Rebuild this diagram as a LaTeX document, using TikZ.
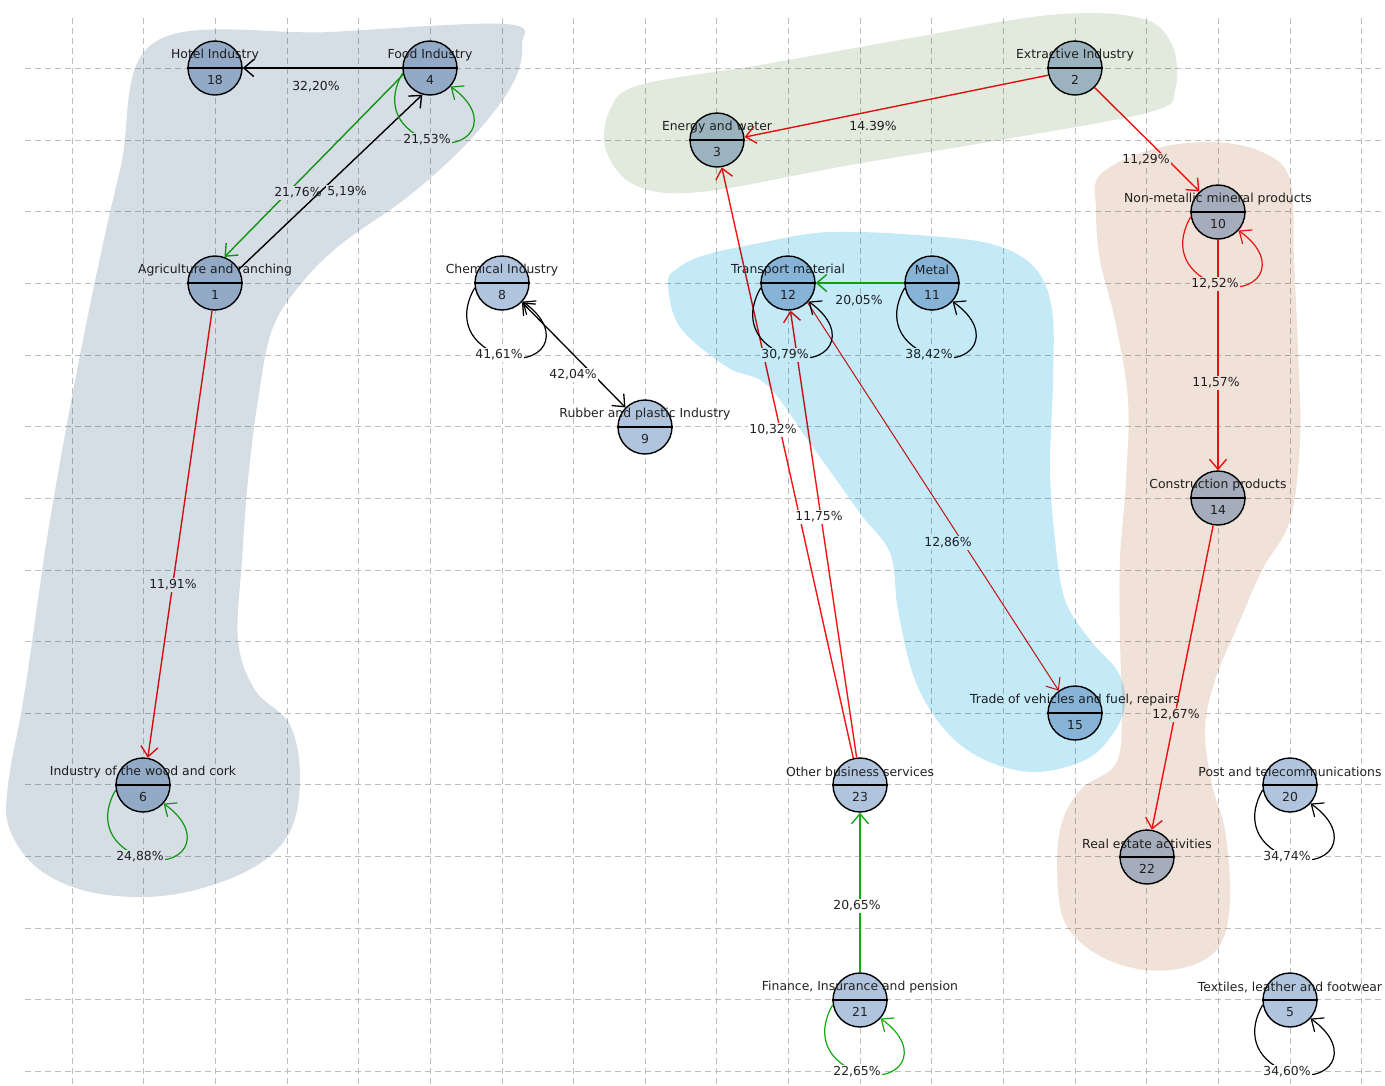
\documentclass[tikz,border=0pt]{standalone}
\usepackage{fontspec}
\setmainfont{DejaVu Sans}
\usetikzlibrary{arrows.meta,calc}
\definecolor{nodefill}{HTML}{B0C4DE}
\definecolor{gridc}{RGB}{190,190,190}
\definecolor{redc}{RGB}{250,20,20}
\definecolor{greenc}{RGB}{20,170,20}
\definecolor{txtc}{RGB}{35,35,35}
\definecolor{hullgray}{RGB}{214,222,229}
\definecolor{hullgreen}{RGB}{225,234,220}
\definecolor{hullblue}{RGB}{196,233,247}
\definecolor{hullpeach}{RGB}{240,226,216}
\tikzset{
  sector/.style={circle,draw=black,line width=1.4pt,fill=nodefill,minimum size=54pt,inner sep=0pt},
  ntext/.style={font=\fontsize{12.4}{14}\selectfont,text=txtc,inner sep=0pt},
  elab/.style={font=\fontsize{12.4}{14}\selectfont,fill=white,inner sep=1.5pt,text=txtc},
  flow/.style={line width=1.4pt,-{Straight Barb[length=10pt,width=17pt]}},
  biflow/.style={line width=1.3pt,{Straight Barb[length=10pt,width=17pt]}-{Straight Barb[length=10pt,width=17pt]}},
  loopst/.style={line width=1.2pt,-{Straight Barb[length=10pt,width=17pt]}},
  gridline/.style={gridc,line width=1pt,dash pattern=on 6pt off 4pt},
  hull/.style={blend mode=multiply}
}
\newcommand\sect[5]{%
  \node[sector] (#1) at (#2,#3) {};
  \draw[line width=1.4pt] (#1.west) -- (#1.east);
  \node[ntext] (#1name) at (#2,#3-13) {#4};
  \node[ntext] (#1num) at (#2,#3+12) {#5};
}
\newcommand\selfedge[4]{%
  \draw[loopst,#2] (#1.190) .. controls ($(#1)+(-42,30)$) and ($(#1)+(-38,58)$) .. ($(#1)+(-3,72)$)
     .. controls ($(#1)+(40,86)$) and ($(#1)+(65,50)$) .. (#1.318);
  \node[elab] (#3) at ($(#1)+(-3,72)$) {#4};
}
\begin{document}
\begin{tikzpicture}[x=1pt,y=-1pt]
\useasboundingbox (0,0) rectangle (1385,1085);
\fill[white] (0,0) rectangle (1385,1085);
% grid
\foreach \k in {1,...,19}{%
  \pgfmathsetmacro\gx{round(71.65*\k)+0.5}
  \draw[gridline] (\gx,18) -- (\gx,1085);}
\foreach \j in {0,...,14}{%
  \pgfmathsetmacro\gy{round(68+71.65*\j)+0.5}
  \draw[gridline] (25,\gy) -- (1385,\gy);}

% nodes
\sect{n18}{215}{68}{Hotel Industry}{18}
\sect{n4}{430}{68}{Food Industry}{4}
\sect{n3}{717}{140}{Energy and water}{3}
\sect{n2}{1075}{68}{Extractive Industry}{2}
\sect{n10}{1218}{212}{Non-metallic mineral products}{10}
\sect{n1}{215}{283}{Agriculture and ranching}{1}
\sect{n8}{502}{283}{Chemical Industry}{8}
\sect{n12}{788}{283}{Transport material}{12}
\sect{n11}{932}{283}{Metal}{11}
\sect{n9}{645}{427}{Rubber and plastic Industry}{9}
\sect{n14}{1218}{498}{Construction products}{14}
\sect{n15}{1075}{713}{Trade of vehicles and fuel, repairs}{15}
\sect{n6}{143}{785}{Industry of the wood and cork}{6}
\sect{n23}{860}{785}{Other business services}{23}
\sect{n20}{1290}{785}{Post and telecommunications}{20}
\sect{n22}{1147}{857}{Real estate activities}{22}
\sect{n21}{860}{1000}{Finance, Insurance and pension}{21}
\sect{n5}{1290}{1000}{Textiles, leather and footwear}{5}

% edges
\draw[flow] (n4.180) -- (n18.0);
\node[elab,fill=none] (l1) at (316,87) {32,20\%};
\draw[flow,greenc] (n4.194) -- (n1.70);
\node[elab] (l2) at (298,193) {21,76\%};
\draw[flow] (n1.30) -- (n4.254);
\node[elab] (l3) at (347,192) {5,19\%};
\draw[flow,redc] (n1.264) -- (n6.80);
\node[elab] (l4) at (173,585) {11,91\%};
\draw[biflow] (n8.316) -- (n9.135);
\node[elab] (l5) at (573,375) {42,04\%};
\draw[flow,redc] (n2.195) -- (n3.6);
\node[elab] (l6) at (873,126) {14.39\%};
\draw[flow,redc] (n2.315) -- (n10.132);
\node[elab] (l7) at (1146,160) {11,29\%};
\draw[flow,redc] (n10.270) -- (n14.90);
\node[elab] (l8) at (1216,383) {11,57\%};
\draw[flow,redc] (n14.260) -- (n22.80);
\node[elab] (l9) at (1176,715) {12,67\%};
\draw[flow,greenc] (n11.180) -- (n12.0);
\node[elab] (l10) at (859,301) {20,05\%};
\draw[flow,redc] (n23.104) -- (n3.280);
\node[elab] (l11) at (773,430) {10,32\%};
\draw[flow,redc] (n23.97) -- (n12.275);
\node[elab] (l12) at (819,517) {11,75\%};
\draw[flow,redc,line width=1pt] (n12.315) -- (n15.126);
\node[elab] (l13) at (948,543) {12,86\%};
\draw[flow,greenc] (n21.90) -- (n23.270);
\node[elab] (l14) at (857,906) {20,65\%};

% self loops
\selfedge{n4}{greenc}{s4}{21,53\%}
\selfedge{n6}{greenc}{s6}{24,88\%}
\selfedge{n8}{black}{s8}{41,61\%}
\selfedge{n12}{black}{s12}{30,79\%}
\selfedge{n11}{black}{s11}{38,42\%}
\selfedge{n10}{redc}{s10}{12,52\%}
\selfedge{n21}{greenc}{s21}{22,65\%}
\selfedge{n20}{black}{s20}{34,74\%}
\selfedge{n5}{black}{s5}{34,60\%}

% hulls (overlay, multiply)
\fill[hullgray,hull] plot[smooth cycle,tension=0.6] coordinates {
 (155,42) (330,32) (505,24) (522,45) (512,85) (470,140) (410,195) (340,245) (300,285)
 (272,330) (258,400) (248,480) (242,560) (238,640) (255,690) (290,725) (300,780)
 (288,835) (245,872) (170,895) (95,893) (40,870) (10,830) (8,785) (25,690) (50,520)
 (85,330) (120,170)};
\fill[hullgreen,hull] plot[smooth cycle,tension=0.6] coordinates {
 (610,110) (640,85) (760,65) (900,40) (1050,15) (1140,18) (1172,45) (1175,90)
 (1150,112) (1000,140) (850,165) (700,192) (635,185) (606,150)};
\fill[hullblue,hull] plot[smooth cycle,tension=0.6] coordinates {
 (668,283) (680,327) (727,367) (767,385) (810,443) (860,513) (890,553) (898,610)
 (915,680) (945,730) (985,760) (1035,772) (1085,760) (1112,735) (1125,705) (1118,672)
 (1090,640) (1065,600) (1055,540) (1050,470) (1053,380) (1052,310) (1035,268) (995,245)
 (930,236) (830,232) (760,243) (705,255) (678,268)};
\fill[hullpeach,hull] plot[smooth cycle,tension=0.6] coordinates {
 (1100,175) (1150,150) (1210,142) (1262,152) (1290,180) (1294,260) (1298,350) (1300,440)
 (1290,520) (1262,570) (1238,625) (1215,680) (1205,730) (1212,785) (1225,830) (1230,900)
 (1220,945) (1190,966) (1145,970) (1100,956) (1068,928) (1058,890) (1060,830) (1080,790)
 (1115,765) (1122,720) (1120,640) (1120,560) (1126,480) (1128,400) (1115,320) (1100,260)
 (1096,210)};
\end{tikzpicture}
\end{document}
